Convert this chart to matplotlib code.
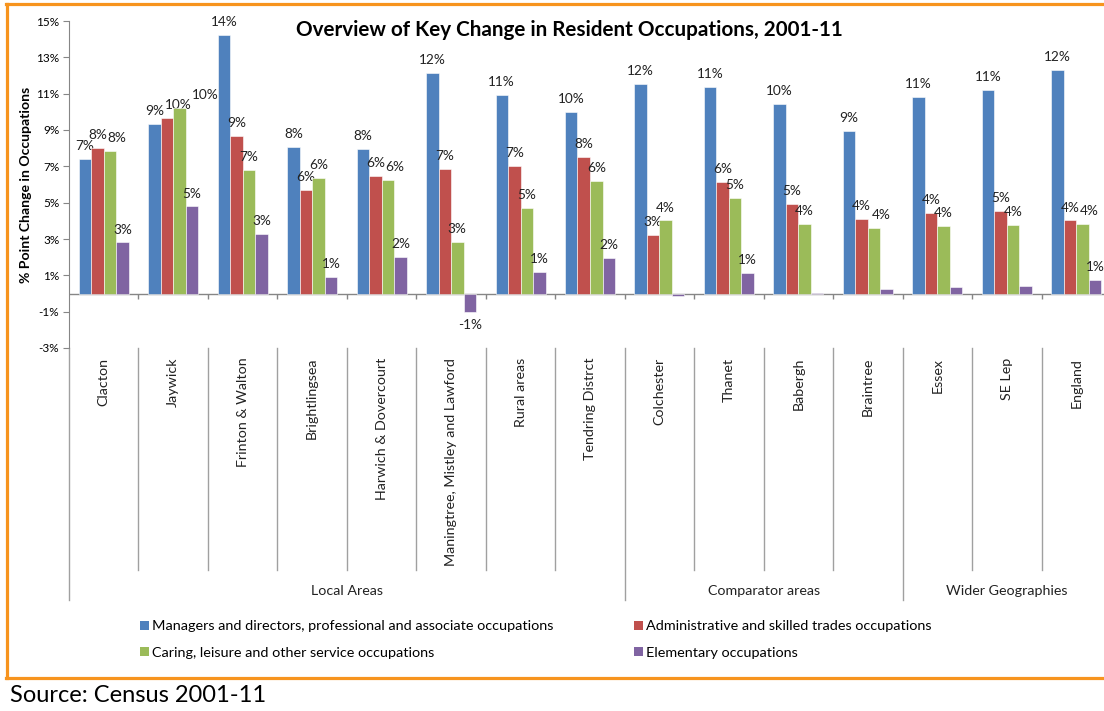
import matplotlib
matplotlib.use("Agg")
import matplotlib.pyplot as plt
import matplotlib.transforms as mtransforms
from matplotlib.lines import Line2D
from matplotlib.patches import Patch
import numpy as np

plt.rcParams['font.family'] = ['Lato', 'DejaVu Sans']

# Data (% point change 2001-11)
areas = ['Clacton', 'Jaywick', 'Frinton & Walton', 'Brightlingsea', 'Harwich & Dovercourt',
         'Maningtree, Mistley and Lawford', 'Rural areas', 'Tendring Distrct',
         'Colchester', 'Thanet', 'Babergh', 'Braintree',
         'Essex', 'SE Lep', 'England']
groups = ['Local Areas', 'Comparator areas', 'Wider Geographies']
group_sizes = [8, 4, 3]

series_names = ['Managers and directors, professional and associate occupations',
                'Administrative and skilled trades occupations',
                'Caring, leisure and other service occupations',
                'Elementary occupations']
managers = [7.40, 9.33, 14.24, 8.06, 7.94, 12.16, 10.93, 9.99, 11.52, 11.39, 10.42, 8.93, 10.80, 11.21, 12.31]
admin = [7.99, 9.65, 8.67, 5.71, 6.46, 6.83, 7.02, 7.53, 3.23, 6.13, 4.92, 4.08, 4.42, 4.53, 4.02]
caring = [7.84, 10.21, 6.80, 6.35, 6.23, 2.82, 4.72, 6.17, 4.02, 5.27, 3.85, 3.60, 3.74, 3.76, 3.82]
elementary = [2.81, 4.79, 3.28, 0.89, 2.00, -1.00, 1.17, 1.94, -0.15, 1.15, 0.05, 0.23, 0.38, 0.43, 0.75]

colors = ['#4F81BD', '#C0504D', '#9BBB59', '#8064A2']
series = [managers, admin, caring, elementary]

W, H = 1104, 711
fig = plt.figure(figsize=(W / 100, H / 100), dpi=100)
ax = fig.add_axes([69 / W, 1 - 348 / H, (1111 - 69) / W, (348 - 21) / H])

x = np.arange(len(areas))
bw = 0.18
gray = '#868686'
labels_by_cat = [[] for _ in areas]
for i, (vals, c) in enumerate(zip(series, colors)):
    pos = x + (i - 1.5) * bw
    ax.bar(pos, vals, bw, color=c, edgecolor='white', linewidth=0.4, zorder=3)
    for k, (xp, v) in enumerate(zip(pos, vals)):
        if round(v) == 0:
            continue
        off = 5 if v >= 0 else -5
        ann = ax.annotate(f"{v:.0f}%", (xp, v), xytext=(0, off), textcoords='offset points',
                          ha='center', va='bottom' if v >= 0 else 'top', fontsize=9.8,
                          color='#222222')
        labels_by_cat[k].append(ann)

ax.set_xlim(-0.5, len(areas) - 0.5)
ax.set_ylim(-3, 15)
ax.set_yticks(np.arange(-3, 16, 2))
ax.set_yticklabels([f"{t}%" for t in range(-3, 16, 2)], fontsize=8.5)
ax.tick_params(axis='y', length=4, color=gray, pad=3)
for s in ['top', 'right', 'bottom']:
    ax.spines[s].set_visible(False)
ax.spines['left'].set_color(gray)

ax.set_xticks(x)
ax.set_xticklabels(areas, rotation=90, va='top', fontsize=10.3, color='#222222')
ax.tick_params(axis='x', length=0, pad=7)

ax.set_ylabel('% Point Change in Occupations', fontsize=10.1, fontweight='bold', labelpad=3)
fig.text(569.5 / W, 1 - 30 / H, 'Overview of Key Change in Resident Occupations, 2001-11',
         fontsize=14.9, fontweight='bold', ha='center', va='center')

# zero line with small ticks at category boundaries
ax.axhline(0, color=gray, lw=1, zorder=2)
bounds = np.arange(-0.5, len(areas), 1.0)
ax.vlines(bounds[1:], -0.28, 0, color=gray, lw=1)

# multi-level category separators
trans = mtransforms.blended_transform_factory(ax.transData, ax.transAxes)
group_edges = np.concatenate([[0], np.cumsum(group_sizes)]) - 0.5
for b in bounds:
    bottom = -0.771 if b in group_edges else -0.679
    ax.plot([b, b], [0, bottom], transform=trans, color='#A0A0A0', lw=1, clip_on=False)
ax.plot([14.5, 14.5], [0, -0.771], transform=trans, color='#A0A0A0', lw=1, clip_on=False)
for g, a, b in zip(groups, group_edges[:-1], group_edges[1:]):
    ax.text((a + b) / 2, -0.743, g, transform=trans, ha='center', va='center',
            fontsize=10.3, color='#222222')

# legend in two columns
handles = [Patch(facecolor=c, edgecolor='none') for c in colors]
for cols, xpos in [([0, 2], 133 / W), ([1, 3], 627 / W)]:
    fig.legend([handles[k] for k in cols], [series_names[k] for k in cols],
               loc='upper left', bbox_to_anchor=(xpos, 1 - 613 / H), frameon=False,
               fontsize=10.4, handlelength=0.6, handleheight=0.6, handletextpad=0.25,
               labelspacing=1.0, borderpad=0)

# orange frame
orange = '#F7941E'
fig.add_artist(Line2D([7 / W, 7 / W], [1 - 4 / H, 1 - 678 / H], color=orange, lw=2.3))
fig.add_artist(Line2D([6 / W, 1.0], [1 - 4 / H, 1 - 4 / H], color=orange, lw=2.3))
fig.add_artist(Line2D([6 / W, 1.0], [1 - 678 / H, 1 - 678 / H], color=orange, lw=2.3))

fig.text(10 / W, 1 - 695 / H, 'Source: Census 2001-11', fontsize=17, va='center', ha='left')

# nudge overlapping data labels sideways, as the spreadsheet did
fig.canvas.draw()
renderer = fig.canvas.get_renderer()
for anns in labels_by_cat:
    placed = []
    for ann in anns:
        bb = ann.get_window_extent(renderer)
        shift = 0.0
        for pb in placed:
            if bb.y0 < pb.y1 - 1.5 and bb.y1 > pb.y0 + 1.5 and bb.x0 + shift < pb.x1:
                shift = max(shift, pb.x1 - bb.x0 + 0.5)
        if shift:
            dx, dy = ann.xyann
            ann.xyann = (dx + shift * 72 / fig.dpi, dy)
            bb = ann.get_window_extent(renderer)
        placed.append(bb)

fig.savefig('out.png', dpi=100)
